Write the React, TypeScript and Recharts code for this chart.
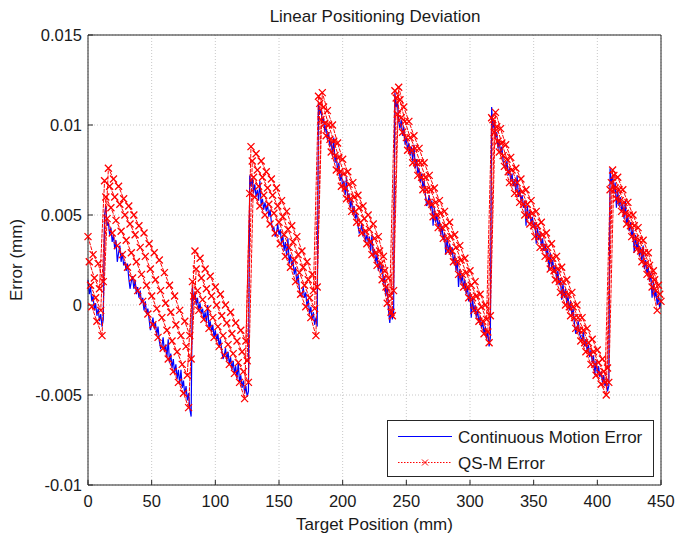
import { LineChart, Line, XAxis, YAxis, CartesianGrid } from 'recharts';

// axis ticks
const xTicks = [0, 50, 100, 150, 200, 250, 300, 350, 400, 450];
const yTicks = [-0.01, -0.005, 0, 0.005, 0.01, 0.015];

// continuous motion error in um, one sample per mm, each stroke starts at cmStarts[i]
const cmStarts = [0, 13, 82, 127, 181, 241, 317, 410];
const cmSeg1 = [1.4, 0.6, 1.0, 0.2, 0.5, -0.3, 0.1, -0.6, -0.2, -0.9, -0.5, -1.2, -0.8];
const cmSeg2 = [
  5.0, 5.5, 4.4, 4.6, 3.9, 4.3, 3.5, 3.9, 3.1, 3.6, 2.4, 2.9, 3.3, 2.4, 2.9, 2.2, 2.4, 1.9, 2.3, 1.5,
  0.9, 1.3, 1.6, 0.9, 1.4, 0.6, 1.0, 0.4, 0.8, 0.1, 0.4, -0.3, 0.2, -0.5, -0.2, -0.8, -1.4, -1.1, -0.7, -1.3,
  -1.0, -1.7, -1.2, -2.0, -2.4, -2.3, -1.8, -2.6, -2.2, -2.9, -1.9, -3.2, -2.7, -3.5, -3.0, -3.8, -3.3, -4.1, -3.6, -4.4,
  -3.6, -4.6, -4.2, -5.0, -4.5, -5.3, -4.9, -5.8, -6.2,
];
const cmSeg3 = [
  1.0, 0.3, 0.7, 0.0, 0.4, -0.3, 0.1, -0.5, -0.2, -0.8, -0.4, -1.0, 0.0, -1.3, -0.9, -1.5, -1.1, -1.8, -1.4, -2.0,
  -1.6, -2.3, -1.9, -2.5, -3.0, -2.8, -2.4, -3.1, -2.6, -3.3, -2.9, -3.6, -3.1, -3.8, -3.4, -4.1, -3.2, -4.3, -3.9, -4.6,
  -4.2, -4.9, -4.5, -5.1, -4.8,
];
const cmSeg4 = [
  7.2, 6.6, 7.0, 6.2, 6.7, 6.0, 6.4, 5.8, 6.9, 5.5, 5.9, 5.3, 5.7, 5.2, 5.6, 4.9, 5.3, 4.6, 4.2, 4.3,
  3.8, 4.0, 4.5, 3.9, 4.2, 3.4, 3.9, 3.0, 3.5, 2.7, 3.7, 2.3, 2.8, 2.2, 2.5, 1.7, 2.1, 1.2, 1.7, 0.9,
  0.5, 0.5, 1.0, 0.4, 0.7, -0.1, 0.3, -0.5, -0.1, -0.8, -0.4, -1.1, -0.7, -1.2,
];
const cmSeg5 = [
  11.2, 10.6, 10.9, 10.1, 10.4, 9.6, 10.0, 9.2, 9.6, 8.8, 9.1, 8.3, 9.3, 7.9, 8.3, 7.4, 7.9, 6.9, 7.3, 6.5,
  6.9, 6.1, 7.1, 5.8, 6.2, 5.4, 5.9, 5.0, 5.5, 4.8, 5.1, 4.4, 4.0, 4.1, 4.5, 3.8, 4.2, 3.5, 3.9, 3.5,
  3.8, 3.0, 3.9, 2.7, 3.1, 2.3, 2.8, 1.9, 2.4, 1.8, 2.2, 1.2, 1.6, 0.5, 1.0, -0.3, -1.0, -0.2, -0.8, -0.5,
];
const cmSeg6 = [
  11.8, 11.0, 11.3, 10.2, 9.8, 10.3, 9.4, 9.9, 8.9, 9.3, 8.6, 9.0, 8.3, 8.8, 8.0, 8.9, 7.6, 8.1, 7.3, 7.6,
  6.8, 7.3, 6.5, 6.9, 6.1, 5.5, 5.7, 6.1, 5.3, 5.8, 4.4, 5.4, 4.6, 5.0, 4.3, 4.7, 3.9, 4.4, 3.6, 4.0,
  2.8, 3.7, 2.9, 3.4, 2.8, 3.2, 2.3, 2.8, 1.9, 2.5, 1.0, 2.0, 1.2, 1.7, 0.9, 1.4, 0.6, 1.0, 0.2, 0.7,
  -0.7, 0.4, -0.4, 0.0, -0.7, -0.3, -1.0, -0.6, -1.3, -0.9, -1.6, -1.2, -1.9, -1.5, -2.3, -1.8,
];
const cmSeg7 = [
  11.0, 9.8, 10.2, 9.3, 9.6, 8.7, 9.1, 8.4, 8.8, 8.0, 7.7, 7.6, 8.0, 7.2, 7.6, 6.9, 7.3, 6.6, 7.0, 6.3,
  7.2, 6.0, 6.4, 5.8, 6.1, 5.4, 5.8, 4.4, 5.5, 4.8, 5.2, 4.5, 4.9, 4.3, 4.6, 3.4, 4.3, 3.6, 4.0, 3.3,
  3.7, 3.0, 3.4, 2.8, 3.1, 1.9, 2.9, 2.1, 2.5, 1.8, 2.2, 1.4, 1.9, 1.1, 1.5, 0.3, 1.2, 0.4, 0.9, 0.1,
  0.5, -0.3, 0.2, -0.6, -0.2, -1.0, -1.6, -1.3, -0.9, -1.6, -1.8, -2.0, -1.5, -2.3, -1.9, -2.6, -2.2, -2.9, -2.5, -3.2,
  -2.8, -3.9, -3.1, -3.8, -3.4, -4.0, -3.7, -4.3, -3.9, -4.5, -4.2, -4.8, -4.5,
];
const cmSeg8 = [
  7.6, 6.8, 7.2, 6.3, 6.8, 5.4, 6.4, 5.5, 6.0, 5.2, 5.6, 4.8, 5.8, 4.5, 4.9, 4.1, 4.6, 3.8, 4.2, 2.9,
  3.9, 3.1, 3.5, 2.7, 3.2, 2.4, 3.3, 2.0, 2.5, 1.7, 2.1, 1.3, 1.8, 0.4, 1.3, 0.4, 0.8, 0.0, 0.5, -0.2,
  0.3,
];

// QS-M error in um, four passes, a point every 4 mm, pass k starts at x = k
const qsStep = 4;
const qsPass1 = [
  3.8, 2.8, 2.3, 1.3,
  7.6, 7.0, 6.6, 5.9, 5.5, 5.0, 4.4, 4.0, 3.4, 2.9, 2.5, 1.8, 1.1, 0.5, -0.3, -0.9, -1.7,
  3.0, 2.6, 2.0, 1.6, 1.0, 0.6, 0.0, -0.4, -1.0, -1.4, -2.0,
  8.8, 8.4, 8.0, 7.4, 7.0, 6.5, 5.8, 5.2, 4.4, 3.8, 3.0, 2.4, 1.7, 1.0,
  11.8, 10.8, 10.0, 9.0, 8.1, 7.4, 6.8, 6.1, 5.5, 5.0, 4.5, 3.8, 2.7, 1.5, 0.8,
  12.1, 11.0, 10.2, 9.4, 8.7, 7.9, 7.2, 6.5, 5.8, 5.2, 4.6, 3.9, 3.3, 2.6, 1.9, 1.3, 0.6, 0.0, -0.6,
  10.7, 9.8, 8.9, 8.2, 7.6, 7.0, 6.4, 5.8, 5.2, 4.6, 4.0, 3.4, 2.7, 2.1, 1.4, 0.7, 0.0, -0.7, -1.3, -1.9, -2.5, -3.0, -3.5,
  7.5, 7.1, 6.4, 5.7, 5.0, 4.3, 3.6, 2.9, 1.9, 1.1,
];
const qsPass2 = [
  2.4, 1.5, 0.9,
  6.9, 6.6, 6.0, 5.6, 5.0, 4.5, 3.9, 3.2, 2.7, 2.0, 1.4, 0.8, 0.1, -0.4, -1.1, -1.7, -2.3, -3.0,
  2.0, 1.5, 0.9, 0.5, 0.0, -0.6, -1.0, -1.6, -2.0, -2.6, -3.1,
  8.0, 7.5, 7.1, 6.5, 6.1, 5.5, 4.9, 4.2, 3.5, 2.8, 2.1, 1.4, 0.8,
  11.6, 11.0, 10.0, 9.1, 8.2, 7.3, 6.7, 6.0, 5.4, 4.8, 4.2, 3.7, 3.0, 1.9, 0.5,
  11.9, 11.4, 10.2, 9.3, 8.7, 7.9, 7.1, 6.4, 5.7, 5.1, 4.4, 3.8, 3.2, 2.5, 1.8, 1.1, 0.5, -0.1, -0.8,
  10.4, 9.9, 9.0, 8.1, 7.5, 6.8, 6.3, 5.6, 5.1, 4.4, 3.9, 3.2, 2.6, 2.0, 1.3, 0.6, -0.1, -0.7, -1.4, -2.1, -2.6, -3.2, -3.7, -4.3,
  7.2, 6.4, 5.7, 5.0, 4.4, 3.6, 2.9, 2.2, 1.4, 0.6,
];
const qsPass3 = [
  1.1, 0.4, -0.3,
  6.0, 5.4, 4.7, 4.1, 3.6, 2.9, 2.4, 1.7, 1.1, 0.5, -0.2, -0.7, -1.4, -2.0, -2.6, -3.3, -3.9,
  1.3, 0.8, 0.3, -0.2, -0.7, -1.2, -1.7, -2.2, -2.7, -3.2, -3.7, -4.3,
  7.1, 6.6, 6.1, 5.6, 5.1, 4.6, 3.9, 3.2, 2.5, 1.8, 1.1, 0.4, -0.2,
  11.2, 10.1, 9.2, 8.3, 7.4, 6.5, 5.9, 5.2, 4.6, 4.1, 3.5, 2.9, 2.3, 1.0, -0.4,
  11.5, 10.4, 9.3, 8.6, 7.9, 7.1, 6.4, 5.6, 5.0, 4.3, 3.7, 3.0, 2.4, 1.7, 1.0, 0.4, -0.3, -0.9, -1.5,
  10.3, 9.1, 8.3, 7.4, 6.8, 6.2, 5.6, 5.0, 4.4, 3.8, 3.2, 2.6, 1.9, 1.3, 0.6, -0.1, -0.7, -1.4, -2.1, -2.7, -3.3, -3.8, -4.3,
  6.4, 6.5, 5.8, 5.1, 4.4, 3.7, 3.0, 2.3, 1.6, 0.8, 0.2,
];
const qsPass4 = [
  -0.1, -0.9, -1.7,
  4.8, 4.0, 3.3, 2.8, 2.1, 1.5, 0.8, 0.2, -0.5, -1.1, -1.8, -2.4, -3.0, -3.7, -4.3, -4.9, -5.7,
  0.5, -0.3, -0.8, -1.3, -1.8, -2.3, -2.8, -3.3, -3.8, -4.3, -5.2,
  6.2, 6.0, 5.5, 5.0, 4.5, 4.0, 3.4, 2.7, 2.1, 1.3, 0.6, -0.1, -0.7, -1.7,
  10.3, 9.4, 8.5, 7.5, 6.6, 5.9, 5.2, 4.6, 4.0, 3.4, 2.8, 2.2, 1.4, 0.1, -0.6,
  10.6, 9.6, 8.6, 7.9, 7.2, 6.4, 5.7, 4.9, 4.3, 3.7, 3.0, 2.4, 1.7, 1.0, 0.4, -0.3, -0.9, -1.6, -2.1,
  9.6, 8.5, 7.7, 6.8, 6.2, 5.7, 5.0, 4.5, 3.8, 3.2, 2.7, 2.0, 1.4, 0.7, 0.0, -0.6, -1.3, -2.0, -2.6, -3.3, -3.9, -4.4, -5.0,
  6.8, 5.9, 5.2, 4.5, 3.8, 3.1, 2.4, 1.7, 1.0, -0.3,
];

const cmSegs = [cmSeg1, cmSeg2, cmSeg3, cmSeg4, cmSeg5, cmSeg6, cmSeg7, cmSeg8];
const continuousData = cmSegs.flatMap((seg, s) =>
  seg.map((v, i) => ({ x: cmStarts[s] + i, y: v / 1000 })),
);
const qsData = [qsPass1, qsPass2, qsPass3, qsPass4].map((pass, p) =>
  pass.map((v, i) => ({ x: p + i * qsStep, y: v / 1000 })),
);

const FONT = '"Liberation Sans", Arial, Helvetica, sans-serif';
const AXIS = '#262626';
const BLUE = '#0000ff';
const RED = '#ff0000';

function CrossDot(props: any) {
  const { cx, cy } = props;
  if (cx == null || cy == null) return null;
  const s = 3.5;
  return (
    <path
      d={`M${cx - s},${cy - s}L${cx + s},${cy + s}M${cx - s},${cy + s}L${cx + s},${cy - s}`}
      stroke={RED}
      strokeWidth={1.3}
      strokeDasharray="none"
      fill="none"
    />
  );
}

export default function App() {
  const tickStyle = { fill: '#1a1a1a', fontSize: 16.5 };
  return (
    <div style={{ position: 'absolute', left: 0, top: 0, width: 678, height: 534, background: '#fff', fontFamily: FONT }}>
      <LineChart width={678} height={534} margin={{ top: 34, right: 16, bottom: 0, left: 0 }}>
        <CartesianGrid stroke="#c8c8c8" strokeDasharray="1 2" />
        <XAxis
          type="number"
          dataKey="x"
          domain={[0, 450]}
          ticks={xTicks}
          interval={0}
          height={49}
          tickSize={-5}
          tickMargin={15}
          stroke={AXIS}
          tick={tickStyle}
        />
        <XAxis
          xAxisId="top"
          orientation="top"
          type="number"
          dataKey="x"
          domain={[0, 450]}
          ticks={xTicks}
          interval={0}
          height={1}
          tickSize={-5}
          stroke={AXIS}
          tickFormatter={() => ''}
        />
        <YAxis
          type="number"
          domain={[-0.01, 0.015]}
          ticks={yTicks}
          interval={0}
          width={88}
          tickSize={-5}
          tickMargin={11}
          stroke={AXIS}
          tick={tickStyle}
          tickFormatter={(v: number) => String(v)}
        />
        <YAxis
          yAxisId="right"
          orientation="right"
          type="number"
          domain={[-0.01, 0.015]}
          ticks={yTicks}
          interval={0}
          width={1}
          tickSize={-5}
          stroke={AXIS}
          tickFormatter={() => ''}
        />
        <Line
          data={continuousData}
          dataKey="y"
          type="linear"
          stroke={BLUE}
          strokeWidth={1.2}
          dot={false}
          activeDot={false}
          isAnimationActive={false}
        />
        {qsData.map((pass, i) => (
          <Line
            key={i}
            data={pass}
            dataKey="y"
            type="linear"
            stroke={RED}
            strokeWidth={1}
            strokeDasharray="4 1"
            dot={<CrossDot />}
            activeDot={false}
            isAnimationActive={false}
          />
        ))}
      </LineChart>
      <svg
        width={678}
        height={534}
        style={{ position: 'absolute', left: 0, top: 0, pointerEvents: 'none' }}
        fontFamily={FONT}
      >
        <text x={375} y={21.5} textAnchor="middle" fontSize={17} fill="#1a1a1a">
          Linear Positioning Deviation
        </text>
        <text x={374.5} y={529.5} textAnchor="middle" fontSize={17} fill="#1a1a1a">
          Target Position (mm)
        </text>
        <text transform="translate(22,260) rotate(-90)" textAnchor="middle" fontSize={17} fill="#1a1a1a">
          Error (mm)
        </text>
        <rect x={387.5} y={420.5} width={266} height={56} fill="#fff" stroke={AXIS} />
        <line x1={398} x2={452} y1={436.5} y2={436.5} stroke={BLUE} />
        <text x={458} y={442.5} fontSize={17} fill="#1a1a1a">
          Continuous Motion Error
        </text>
        <line x1={398} x2={452} y1={462.5} y2={462.5} stroke={RED} strokeDasharray="1.5 1.5" />
        <path d="M422,459.5L428,465.5M422,465.5L428,459.5" stroke={RED} fill="none" />
        <text x={458} y={468.5} fontSize={17} fill="#1a1a1a">
          QS-M Error
        </text>
      </svg>
    </div>
  );
}
